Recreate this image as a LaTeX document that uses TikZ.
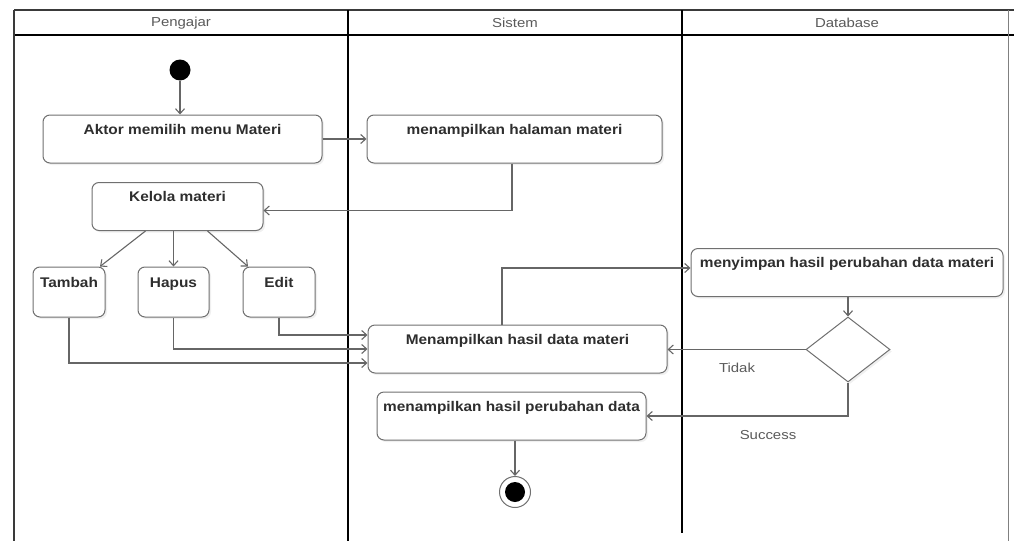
\documentclass[tikz,border=0pt]{standalone}
\usepackage{fontspec}
\setmainfont{Liberation Sans}
\newfontfamily\actfont{Liberation Sans}[FakeStretch=1.1]
\newfontfamily\lblfont{Liberation Sans}[FakeStretch=1.15]
\usetikzlibrary{arrows.meta,shapes.geometric,shadows}
\definecolor{boxgray}{HTML}{707070}
\definecolor{linegray}{HTML}{666666}
\definecolor{textdark}{HTML}{2E2E2E}
\definecolor{textgray}{HTML}{5A5A5A}
\definecolor{lanegray}{HTML}{3A3A3A}

\tikzset{
  act/.style={draw=boxgray, line width=1pt, rounded corners=7pt, fill=white,
    inner sep=0pt, text=textdark,
    font=\actfont\fontsize{14}{16}\selectfont\bfseries,
    text height=19pt, text depth=29pt,
    drop shadow={shadow xshift=2pt, shadow yshift=-2pt, opacity=0.12}},
  smallact/.style={act, text height=20pt, text depth=30pt},
  flow/.style={draw=linegray, line width=1.1pt,
    -{Straight Barb[length=5pt,width=9pt]}},
  lbl/.style={text=textgray, font=\lblfont\fontsize{13}{15}\selectfont, inner sep=0pt},
  lane/.style={draw=black, line width=2pt},
}

\begin{document}
\begin{tikzpicture}[x=1pt,y=-1pt]
\useasboundingbox (0,0) rectangle (1014,541);

% swimlane frame
\draw[draw=lanegray, line width=1.6pt] (14,10) -- (1014,10);
\draw[lane] (14,35) -- (1014,35);
\draw[draw=lanegray, line width=2pt] (14,10) -- (14,541);
\draw[lane] (348,10) -- (348,541);
\draw[lane] (682,10) -- (682,533);
\draw[draw=gray, line width=1pt] (1008,10) -- (1008,541);

\node[lbl] (hPengajar) at (181,23) {Pengajar};
\node[lbl] (hSistem) at (515,23) {Sistem};
\node[lbl] (hDatabase) at (847,23) {Database};

% actions
\node[circle, fill=black, minimum size=21pt, inner sep=0pt] (start) at (180,70) {};
\node[act, minimum width=279pt] (aktor) at (182.5,139) {Aktor memilih menu Materi};
\node[act, minimum width=295pt] (halaman) at (514.5,139) {menampilkan halaman materi};
\node[act, minimum width=171pt] (kelola) at (177.5,206.5) {Kelola materi};
\node[smallact, minimum width=72pt] (tambah) at (69,292) {Tambah};
\node[smallact, minimum width=71pt] (hapus) at (173.5,292) {Hapus};
\node[smallact, minimum width=72pt] (edit) at (279,292) {Edit};
\node[act, minimum width=299pt] (hasil) at (517.5,349) {Menampilkan hasil data materi};
\node[act, minimum width=312pt] (menyimpan) at (847,272.5) {menyimpan hasil perubahan data materi};
\node[act, minimum width=269pt] (perubahan) at (511.5,416) {menampilkan hasil perubahan data};
\node[diamond, draw=boxgray, line width=1pt, fill=white, inner sep=0pt,
      minimum width=84pt, minimum height=65pt,
      drop shadow={shadow xshift=2pt, shadow yshift=-2pt, opacity=0.12}] (dec) at (848,349.5) {};
\node[circle, draw=boxgray, line width=1pt, fill=white, minimum size=31pt, inner sep=0pt] (end) at (515,492) {};
\node[circle, fill=black, minimum size=20pt, inner sep=0pt] (endin) at (end) {};

% flows
\draw[flow] (start) -- (start |- aktor.north);
\draw[flow] (aktor.east) -- (halaman.west);
\draw[flow] ([xshift=-2.5pt]halaman.south) |- ([yshift=-4pt]kelola.east);
\draw[flow] ([xshift=-32pt]kelola.south) -- ([xshift=31pt]tambah.north);
\draw[flow] (kelola.south -| hapus.north) -- (hapus.north);
\draw[flow] ([xshift=30pt]kelola.south) -- ([xshift=-31pt]edit.north);
\draw[flow] (edit.south) |- ([yshift=14pt]hasil.west);
\draw[flow] (hapus.south) |- (hasil.west);
\draw[flow] (tambah.south) |- ([yshift=-14pt]hasil.west);
\draw[flow] ([xshift=-15.5pt]hasil.north) |- ([yshift=4.5pt]menyimpan.west);
\draw[flow] (menyimpan.south -| dec.north) -- (dec.north);
\draw[flow] (dec.west) -- (dec.west -| hasil.east);
\draw[flow] (dec.south) |- (perubahan.east);
\draw[flow] (perubahan.south -| end.north) -- (end.north);

\node[lbl] (tidak) at (737,368) {Tidak};
\node[lbl] (success) at (768,435) {Success};
\end{tikzpicture}
\end{document}
